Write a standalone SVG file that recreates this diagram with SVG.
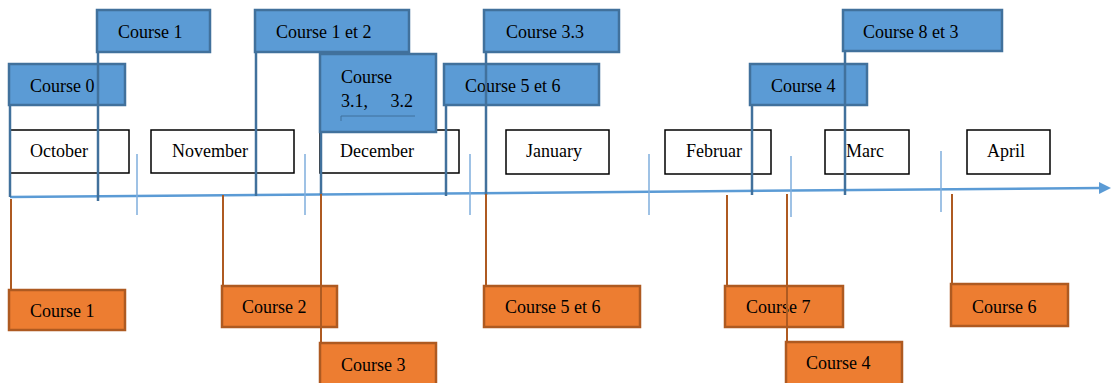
<svg xmlns="http://www.w3.org/2000/svg" width="1113" height="383" viewBox="0 0 1113 383">
<style>
text{font-family:"Liberation Serif","Times New Roman",serif;font-size:18px;fill:#000}
.m{fill:#fff;stroke:#000;stroke-width:1.5}
.b{fill:#5B9BD5;stroke:#41719C;stroke-width:2.5}
.o{fill:#ED7D31;stroke:#AE5A21;stroke-width:2.5}
.bc{stroke:#41719C;stroke-width:2.5;fill:none}
.oc{stroke:#AE5A21;stroke-width:2;fill:none}
.tk{stroke:#7FAEDD;stroke-width:1.5}
</style>
<defs>
<marker id="arr" markerUnits="userSpaceOnUse" markerWidth="14" markerHeight="14" refX="2" refY="6" orient="auto">
<path d="M0,0 L12,6 L0,12 z" fill="#5B9BD5"/>
</marker>
</defs>
<g id="months">
<g id="m-oct"><rect class="m" x="10" y="130" width="119" height="43"/><text x="30" y="157">October</text></g>
<g id="m-nov"><rect class="m" x="151" y="130" width="143" height="43"/><text x="172" y="157">November</text></g>
<g id="m-dec"><rect class="m" x="320" y="130" width="139" height="43"/><text x="340" y="157">December</text></g>
<g id="m-jan"><rect class="m" x="506" y="130" width="103" height="44"/><text x="526" y="157">January</text></g>
<g id="m-feb"><rect class="m" x="665" y="130" width="106" height="44"/><text x="686" y="157">Februar</text></g>
<g id="m-mar"><rect class="m" x="825" y="130" width="84" height="44"/><text x="846" y="157">Marc</text></g>
<g id="m-apr"><rect class="m" x="967" y="130" width="83" height="44"/><text x="987" y="157">April</text></g>
</g>
<g id="top-courses">
<g id="t-c1"><rect class="b" x="97" y="10" width="113" height="42"/><text x="118" y="38">Course 1</text></g>
<g id="t-c0"><rect class="b" x="9" y="64" width="116" height="41"/><text x="30" y="92">Course 0</text></g>
<g id="t-c12"><rect class="b" x="255" y="10" width="154" height="42"/><text x="276" y="38">Course 1 et 2</text></g>
<g id="t-c312"><rect class="b" x="320" y="54" width="116" height="78"/><text x="341" y="83">Course</text><text x="341" y="107" xml:space="preserve">3.1,     3.2</text><path d="M341,121 V116 H415" stroke="#41719C" stroke-width="1" fill="none"/></g>
<g id="t-c33"><rect class="b" x="484" y="10" width="135" height="42"/><text x="506" y="38">Course 3.3</text></g>
<g id="t-c56"><rect class="b" x="444" y="64" width="155" height="41"/><text x="465" y="92">Course 5 et 6</text></g>
<g id="t-c4"><rect class="b" x="750" y="64" width="117" height="41"/><text x="771" y="92">Course 4</text></g>
<g id="t-c83"><rect class="b" x="843" y="10" width="159" height="41"/><text x="863" y="38">Course 8 et 3</text></g>
</g>
<g id="bottom-courses">
<g id="b-c1"><rect class="o" x="9" y="290" width="116" height="40"/><text x="30" y="317">Course 1</text></g>
<g id="b-c2"><rect class="o" x="222" y="286" width="115" height="41"/><text x="242" y="313">Course 2</text></g>
<g id="b-c3"><rect class="o" x="320" y="343" width="116" height="42"/><text x="341" y="371">Course 3</text></g>
<g id="b-c56"><rect class="o" x="484" y="286" width="156" height="41"/><text x="505" y="313">Course 5 et 6</text></g>
<g id="b-c7"><rect class="o" x="725" y="286" width="118" height="41"/><text x="746" y="313">Course 7</text></g>
<g id="b-c4"><rect class="o" x="786" y="342" width="116" height="43"/><text x="806" y="369">Course 4</text></g>
<g id="b-c6"><rect class="o" x="951" y="284" width="117" height="42"/><text x="972" y="313">Course 6</text></g>
</g>
<g id="connectors">
<line x1="10" y1="197" x2="1101" y2="188" stroke="#5B9BD5" stroke-width="2.5" marker-end="url(#arr)"/>
<line class="tk" x1="137" y1="154" x2="137" y2="215"/>
<line class="tk" x1="305" y1="154" x2="305" y2="215"/>
<line class="tk" x1="470" y1="154" x2="470" y2="215"/>
<line class="tk" x1="649" y1="154" x2="649" y2="215"/>
<line class="tk" x1="791" y1="156" x2="791" y2="217"/>
<line class="tk" x1="941" y1="151" x2="941" y2="212"/>
<line class="bc" x1="10" y1="105" x2="10" y2="197"/>
<line class="bc" x1="98" y1="52" x2="98" y2="201"/>
<line class="bc" x1="256" y1="52" x2="256" y2="196"/>
<line class="bc" x1="321" y1="132" x2="321" y2="195"/>
<line class="bc" x1="446" y1="105" x2="446" y2="196"/>
<line class="bc" x1="486" y1="52" x2="486" y2="195"/>
<line class="bc" x1="752" y1="105" x2="752" y2="195"/>
<line class="bc" x1="845" y1="51" x2="845" y2="195"/>
<line class="oc" x1="11" y1="199" x2="11" y2="290"/>
<line class="oc" x1="223" y1="195" x2="223" y2="286"/>
<line class="oc" x1="321" y1="194" x2="321" y2="343"/>
<line class="oc" x1="486" y1="194" x2="486" y2="286"/>
<line class="oc" x1="727" y1="195" x2="727" y2="286"/>
<line class="oc" x1="787" y1="194" x2="787" y2="342"/>
<line class="oc" x1="952" y1="194" x2="952" y2="284"/>
</g>
</svg>
